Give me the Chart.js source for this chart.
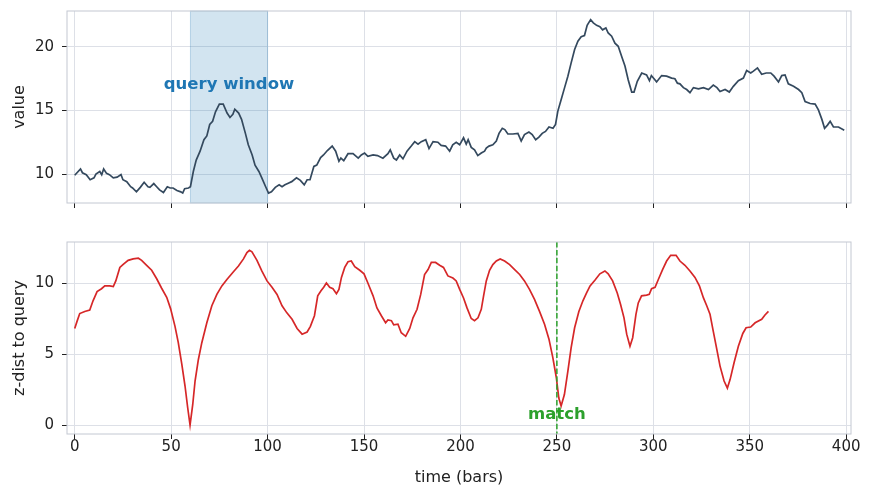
<!DOCTYPE html>
<html>
<head>
<meta charset="utf-8">
<script src="https://cdn.jsdelivr.net/npm/chart.js@4/dist/chart.umd.min.js"></script>
<style>
  body { margin: 0; background: #fff; }
  #wrap { position: relative; width: 872px; height: 498px; }
  #topBox { position: absolute; left: 0; top: 0; width: 872px; height: 215px; }
  #botBox { position: absolute; left: 0; top: 230px; width: 872px; height: 268px; }
</style>
</head>
<body>
<div id="wrap">
  <div id="topBox"><canvas id="valueChart" width="872" height="215"></canvas></div>
  <div id="botBox"><canvas id="distChart" width="872" height="268"></canvas></div>
</div>
<script>
// price series [bar, value]
const valuePoints = [
  [0,9.9],[3,10.4],[4,10.1],[6,9.95],[8,9.55],[10,9.7],[11,10.0],[13,10.2],[14,9.95],[15,10.4],
  [16.5,10.05],[18,9.95],[20,9.7],[22,9.75],[24,9.95],[25,9.55],[27,9.4],[29,9.0],[30,8.9],[32,8.6],
  [34,8.95],[36,9.35],[38,9.0],[39,8.95],[41,9.25],[42.5,9.0],[44,8.75],[46,8.55],[48,9.0],[49.5,8.9],
  [51,8.9],[53,8.7],[55,8.6],[56,8.5],[57,8.85],[59,8.9],[60,9.0],[61.5,10.2],[63,11.1],[65,11.8],
  [67,12.7],[68.5,13.0],[70,13.9],[71.5,14.15],[73,14.9],[75,15.5],[77,15.5],[79,14.8],[80.5,14.45],[82,14.7],
  [83,15.1],[85,14.8],[86.5,14.3],[88.5,13.2],[90,12.3],[92,11.5],[93.5,10.7],[95.5,10.2],[97,9.7],[99,9.0],
  [100.5,8.5],[102,8.6],[104,8.95],[106,9.15],[107.5,9.0],[109,9.15],[111,9.3],[112.5,9.4],[115,9.7],[117,9.5],
  [119,9.15],[120.5,9.55],[122,9.55],[124,10.6],[125.5,10.7],[127.5,11.3],[129,11.5],[131,11.85],[133.5,12.2],[135.3,11.8],
  [137,11.0],[138,11.25],[139.5,11.05],[141.7,11.6],[144.3,11.6],[147,11.25],[148.6,11.5],[150.3,11.65],[152,11.4],[154.7,11.5],
  [157,11.45],[159.8,11.25],[162.4,11.6],[163.6,11.9],[165.4,11.25],[166.8,11.1],[168.5,11.5],[170.2,11.2],[172.3,11.8],[174.5,12.2],
  [176.3,12.55],[178,12.35],[179.7,12.55],[182,12.7],[183.7,12.0],[185.8,12.55],[188.3,12.5],[190,12.25],[192.3,12.2],[194.4,11.8],
  [196,12.3],[197.8,12.5],[199.6,12.3],[201.6,12.85],[203,12.35],[204,12.7],[205.6,12.1],[207.3,11.9],[209,11.45],[210.8,11.65],
  [212.5,11.8],[213.4,12.05],[214.8,12.2],[216.8,12.3],[218.6,12.6],[220,13.2],[221.7,13.6],[223,13.5],[224.6,13.15],[227.2,13.15],
  [229.8,13.2],[231.5,12.6],[233.2,13.1],[235.5,13.3],[237.2,13.1],[239,12.7],[240.7,12.9],[242.4,13.2],[244.1,13.35],[245.9,13.7],
  [248,13.6],[249.3,13.9],[250.5,14.95],[252.2,15.85],[254,16.8],[255.7,17.7],[257.4,18.75],[259.2,19.8],[260.9,20.45],[262.6,20.8],
  [264.3,20.9],[265.7,21.7],[267.5,22.15],[268.9,21.9],[270.6,21.7],[272.3,21.6],[273.7,21.35],[275.4,21.5],[276.6,21.1],[278.4,20.85],
  [280.1,20.3],[281.8,20.05],[283.6,19.25],[285.3,18.5],[287,17.4],[288.8,16.45],[290,16.45],[291.7,17.3],[294,17.95],[296.5,17.8],
  [298,17.35],[299,17.75],[301.7,17.25],[304.3,17.75],[306.9,17.7],[309.5,17.55],[311.2,17.5],[312.5,17.15],[313.8,17.1],[315.6,16.8],
  [317.3,16.65],[319,16.4],[320.8,16.8],[323.4,16.7],[326,16.8],[328.6,16.65],[331.1,17.0],[333,16.8],[334.6,16.5],[337.2,16.65],
  [339.4,16.45],[341.5,16.9],[344.1,17.35],[346.7,17.55],[348.4,18.15],[350.5,17.95],[351.9,18.1],[354,18.35],[356.2,17.85],[358.5,17.95],
  [360.9,17.95],[362.6,17.7],[364.9,17.25],[366.6,17.75],[368.3,17.8],[370,17.1],[372.7,16.9],[375.3,16.65],[377,16.4],[378.7,15.7],
  [381.3,15.55],[383.9,15.5],[385.6,15.05],[387.4,14.3],[388.8,13.6],[390.3,13.85],[391.7,14.15],[393.4,13.7],[396,13.7],[399,13.45]
];

// z-normalised distance to the query window [bar, dist]
const distPoints = [
  [0,6.8],[1.2,7.3],[2.6,7.85],[5.2,8.0],[7.8,8.1],[9.5,8.75],[11.6,9.4],[13.9,9.6],[15.6,9.8],[18.2,9.8],
  [20,9.75],[21.3,10.15],[23.4,11.1],[25,11.3],[27.7,11.6],[30.3,11.7],[33,11.75],[34.7,11.6],[37.3,11.25],[39.9,10.9],
  [42.5,10.3],[45,9.65],[47.7,9.0],[49.7,8.2],[52,6.95],[53.7,5.8],[55.5,4.3],[57.2,2.75],[58.6,1.2],[59.8,0],
  [61.2,1.45],[62.4,3.1],[64.1,4.6],[65.9,5.8],[68.5,7.2],[71.1,8.4],[73.7,9.2],[76.3,9.8],[78.9,10.25],[82.3,10.8],
  [84.9,11.2],[87.5,11.7],[89.3,12.15],[90.6,12.3],[91.9,12.2],[94.5,11.6],[97,10.85],[99.7,10.15],[102.3,9.7],[104.9,9.2],
  [107.5,8.4],[110,7.9],[112.7,7.45],[115.3,6.8],[117.9,6.4],[120.5,6.55],[122.2,6.95],[124.3,7.7],[126,9.1],[127.7,9.45],
  [129.1,9.7],[130.5,10.0],[132.2,9.7],[133.9,9.6],[135.7,9.25],[137,9.55],[138.3,10.4],[140,11.1],[141.7,11.5],[143.4,11.55],
  [145.2,11.15],[147.8,10.9],[150,10.65],[152,10.0],[154.7,9.1],[156.7,8.25],[159,7.7],[161.2,7.2],[162.4,7.4],[164.2,7.35],
  [165.4,7.05],[167.6,7.1],[169.3,6.5],[171.6,6.25],[173.7,6.8],[175.4,7.55],[177.5,8.15],[179.4,9.2],[181.4,10.6],[183.2,10.95],
  [184.9,11.45],[187.1,11.45],[189.2,11.25],[191.2,11.1],[193.5,10.5],[196.1,10.35],[197.8,10.15],[199.6,9.55],[201.6,8.95],[203.4,8.25],
  [205.6,7.5],[207.3,7.35],[209.1,7.55],[210.8,8.15],[212,9.1],[213.4,10.15],[215.1,10.9],[216.8,11.3],[218.6,11.55],[220.6,11.7],
  [222.9,11.55],[225.5,11.3],[228.1,10.95],[230.7,10.6],[233.2,10.15],[235.8,9.55],[238.4,8.85],[241,8.0],[243.6,7.1],[245.9,6.05],
  [247.9,4.75],[249.7,3.35],[251,1.9],[252.2,1.35],[253.9,2.15],[255.7,3.8],[257.4,5.45],[259.2,6.85],[261.4,8.0],[263.5,8.75],
  [265.4,9.3],[267.2,9.8],[269.7,10.2],[272.3,10.65],[274.9,10.85],[276.6,10.65],[278.9,10.15],[281.3,9.3],[283,8.5],[284.8,7.55],
  [286.2,6.4],[287.9,5.55],[289.3,6.15],[291,7.8],[292.2,8.6],[293.9,9.1],[296.5,9.15],[297.9,9.2],[299.1,9.6],[300.9,9.7],
  [302.6,10.25],[304.8,10.95],[306.9,11.55],[309,11.95],[311.8,11.95],[313.8,11.55],[316.4,11.25],[319,10.85],[321.6,10.4],[323.9,9.8],
  [326,8.95],[327.7,8.4],[329.4,7.8],[331.1,6.6],[332.9,5.35],[334.6,4.15],[336.7,3.1],[338.4,2.6],[339.8,3.2],[341.9,4.4],
  [344.1,5.55],[346.4,6.45],[348.1,6.85],[350.5,6.9],[352.8,7.2],[356.2,7.45],[357.9,7.75],[359.7,8.0]
];

const queryWindow = [60, 100];
const matchBar = 250;
const xTicks = [0, 50, 100, 150, 200, 250, 300, 350, 400];

const FONT = "'DejaVu Sans', sans-serif";
const GRID = '#dde0e7';
const SPINE = '#c3c8d2';

function toXY(pts) {
  return pts.map(p => ({x: p[0], y: p[1]}));
}

// frame + annotations
const extras = {
  id: 'extras',
  beforeDatasetsDraw(chart, args, opts) {
    const {ctx, chartArea: a, scales: {x}} = chart;
    ctx.save();
    if (opts.span) {
      const x0 = x.getPixelForValue(opts.span[0]);
      const x1 = x.getPixelForValue(opts.span[1]);
      ctx.fillStyle = 'rgba(31,119,180,0.2)';
      ctx.fillRect(x0, a.top, x1 - x0, a.bottom - a.top);
      ctx.strokeStyle = 'rgba(31,119,180,0.25)';
      ctx.lineWidth = 1;
      ctx.strokeRect(x0, a.top, x1 - x0, a.bottom - a.top);
    }
    ctx.restore();
  },
  afterDatasetsDraw(chart, args, opts) {
    const {ctx, chartArea: a, scales: {x, y}} = chart;
    ctx.save();
    if (opts.label) {
      ctx.font = 'bold 16.5px ' + FONT;
      ctx.fillStyle = opts.label.color;
      ctx.textAlign = 'center';
      ctx.textBaseline = 'alphabetic';
      ctx.fillText(opts.label.text, x.getPixelForValue(opts.label.x), y.getPixelForValue(opts.label.y));
    }
    if (opts.vline != null) {
      const px = x.getPixelForValue(opts.vline);
      ctx.strokeStyle = '#2ca02c';
      ctx.lineWidth = 1.5;
      ctx.setLineDash([5.5, 2.4]);
      ctx.beginPath();
      ctx.moveTo(px, a.top);
      ctx.lineTo(px, a.bottom);
      ctx.stroke();
      ctx.setLineDash([]);
    }
    ctx.strokeStyle = SPINE;
    ctx.lineWidth = 1;
    ctx.strokeRect(a.left, a.top, a.right - a.left, a.bottom - a.top);
    ctx.restore();
  }
};

function xAxis(showLabels, height) {
  return {
    type: 'linear',
    min: -4,
    max: 402.5,
    afterBuildTicks: s => { s.ticks = xTicks.map(v => ({value: v})); },
    afterFit: s => { s.height = height; s.paddingLeft = 0; s.paddingRight = 0; },
    grid: { color: GRID, tickColor: '#222', tickLength: 5, lineWidth: 1 },
    border: { display: false },
    ticks: {
      autoSkip: false,
      maxRotation: 0,
      padding: -1,
      color: '#222',
      font: { family: FONT, size: 15 },
      callback: v => showLabels ? String(v) : ''
    },
    title: {
      display: showLabels,
      text: 'time (bars)',
      color: '#222',
      font: { family: FONT, size: 16 },
      padding: { top: 0, bottom: 11 }
    }
  };
}

function yAxis(min, max, title) {
  return {
    min: min,
    max: max,
    afterFit: s => { s.width = 67; s.paddingTop = 0; s.paddingBottom = 0; },
    grid: { color: GRID, tickColor: '#222', tickLength: 5, lineWidth: 1 },
    border: { display: false },
    ticks: {
      stepSize: 5,
      includeBounds: false,
      padding: 8,
      color: '#222',
      font: { family: FONT, size: 15 }
    },
    title: {
      display: true,
      text: title,
      color: '#222',
      font: { family: FONT, size: 16 },
      padding: { top: 10, bottom: 0 }
    }
  };
}

new Chart(document.getElementById('valueChart'), {
  type: 'line',
  data: {
    datasets: [{
      data: toXY(valuePoints),
      borderColor: '#34495e',
      borderWidth: 1.7,
      pointRadius: 0,
      tension: 0
    }]
  },
  options: {
    responsive: false,
    animation: false,
    layout: { padding: { top: 11, right: 21, left: 0, bottom: 0 } },
    plugins: {
      legend: { display: false },
      tooltip: { enabled: false },
      extras: {
        span: queryWindow,
        label: { text: 'query window', x: 80, y: 16.7, color: '#1f77b4' }
      }
    },
    scales: {
      x: xAxis(false, 12),
      y: yAxis(7.72, 22.83, 'value')
    }
  },
  plugins: [extras]
});

new Chart(document.getElementById('distChart'), {
  type: 'line',
  data: {
    datasets: [{
      data: toXY(distPoints),
      borderColor: '#d62728',
      borderWidth: 1.7,
      pointRadius: 0,
      tension: 0
    }]
  },
  options: {
    responsive: false,
    animation: false,
    layout: { padding: { top: 12, right: 21, left: 0, bottom: 0 } },
    plugins: {
      legend: { display: false },
      tooltip: { enabled: false },
      extras: {
        vline: matchBar,
        label: { text: 'match', x: matchBar, y: 0.4, color: '#2ca02c' }
      }
    },
    scales: {
      x: xAxis(true, 64),
      y: yAxis(-0.63, 12.89, 'z-dist to query')
    }
  },
  plugins: [extras]
});
</script>
</body>
</html>
